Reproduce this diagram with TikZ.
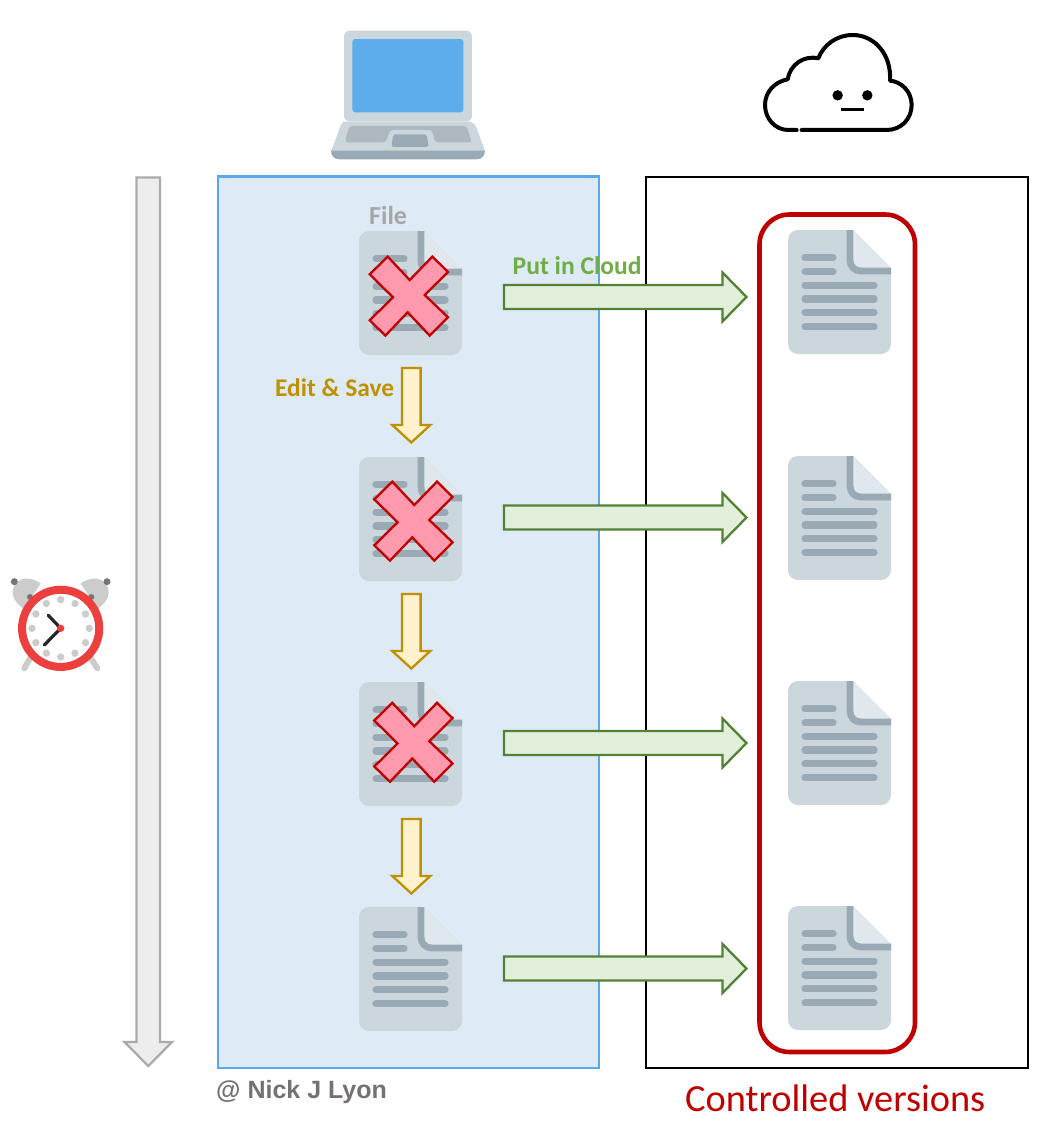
\documentclass[tikz,border=0pt]{standalone}
\usepackage{fontspec}
\setmainfont{Carlito}
\newfontfamily\arialfont{Liberation Sans}
\definecolor{docbody}{HTML}{CCD6DD}
\definecolor{docline}{HTML}{99AAB5}
\definecolor{docfold}{HTML}{E1E8ED}
\definecolor{screenblue}{HTML}{5DADEC}
\definecolor{keypad}{HTML}{ADB9BF}
\definecolor{boxblue}{HTML}{DEEAF6}
\definecolor{boxedge}{HTML}{5BA8EA}
\definecolor{crossfill}{HTML}{FF9AAE}
\definecolor{darkred}{HTML}{C00000}
\definecolor{greenfill}{HTML}{E2EFDA}
\definecolor{greenedge}{HTML}{548235}
\definecolor{greentext}{HTML}{70AD47}
\definecolor{goldfill}{HTML}{FFF2CC}
\definecolor{goldedge}{HTML}{BF9000}
\definecolor{timefill}{HTML}{EDEDED}
\definecolor{timeedge}{HTML}{ABABAB}
\definecolor{filetext}{HTML}{A6A6A6}
\definecolor{signtext}{HTML}{767171}
\definecolor{clockred}{HTML}{EE3F3F}
\definecolor{clockgrey}{HTML}{CCCCCC}
\definecolor{knob}{HTML}{757575}
\tikzset{
  docicon/.pic={
    \fill[docbody] (65,0) -- (10,0) .. controls (4.5,0) and (0,4.5) .. (0,10) -- (0,114)
      .. controls (0,119.5) and (4.5,124) .. (10,124) -- (93,124)
      .. controls (98.5,124) and (103,119.5) .. (103,114) -- (103,38) -- cycle;
    \fill[docfold] (65,0) -- (103,38) -- (73,38) .. controls (68.5,38) and (65,34.5) .. (65,30) -- cycle;
    \draw[docline,line width=6.8pt] (62,0) -- (62,30) .. controls (62,36.5) and (66.5,41) .. (73,41) -- (103,41);
    \foreach \yy/\xx in {27.7/48,41.7/48,55.3/89,69/89,82.7/89,96.7/89}
      \draw[docline,line width=7.2pt,line cap=round] (17,\yy) -- (\xx-3,\yy);
  },
  crossmark/.pic={
    \draw[fill=crossfill,draw=darkred,line width=2.3pt,line join=miter]
      (-21,-39.7) -- (1,-16.3) -- (23.7,-39.7) -- (39.3,-24.3) -- (16,-1.3) -- (39.3,21)
      -- (21,39.3) -- (-1,16) -- (-23.3,39.3) -- (-39,24) -- (-15.7,1) -- (-39,-22) -- cycle;
  },
  greenarrow/.pic={
    \draw[fill=greenfill,draw=greenedge,line width=2.3pt,line join=miter]
      (0,-12) -- (218.5,-12) -- (218.5,-24.5) -- (242.5,0) -- (218.5,24.5) -- (218.5,12) -- (0,12) -- cycle;
  },
  goldarrow/.pic={
    \draw[fill=goldfill,draw=goldedge,line width=2.3pt,line join=miter]
      (-9.3,0) -- (9.3,0) -- (9.3,57) -- (19,57) -- (0,74.5) -- (-19,57) -- (-9.3,57) -- cycle;
  },
  lbl/.style={inner sep=0pt,anchor=base west}
}
\newcommand{\fs}[1]{\fontsize{#1}{#1}\selectfont}
\begin{document}
\begin{tikzpicture}[x=1pt,y=-1pt]
\useasboundingbox (0,0) rectangle (1054,1125);
% boxes
\draw[fill=boxblue,draw=boxedge,line width=2.2pt] (218,176.5) rectangle (599,1068);
\draw[black,line width=2pt] (646,176.5) rectangle (1028,1068);
\draw[darkred,line width=4.6pt,rounded corners=30pt] (759.5,214.5) rectangle (915,1052);
% time arrow
\draw[fill=timefill,draw=timeedge,line width=2.3pt,line join=miter]
  (136.5,177.5) -- (160,177.5) -- (160,1042) -- (172,1042) -- (148.3,1066) -- (124.5,1042) -- (136.5,1042) -- cycle;
% documents
\foreach \py in {231,457,682,907} \pic at (359,\py) {docicon};
\foreach \py in {230,456,681,906} \pic at (788,\py) {docicon};
% crosses
\pic at (408.7,296.3) {crossmark};
\pic at (413.3,521.3) {crossmark};
\pic at (413.3,742.5) {crossmark};
% arrows
\foreach \py in {297,517.5,743,968.5} \pic at (504,\py) {greenarrow};
\foreach \py in {368,594,819} \pic at (411.3,\py) {goldarrow};
% laptop
\begin{scope}[shift={(320,20)},x=0.3333pt,y=-0.3333pt]
  \fill[docbody] (70,305) -- (450,305) .. controls (462,308) and (468,318) .. (472,328) -- (495,395) -- (33,395) -- (58,328) .. controls (61,318) and (64,308) .. (70,305) -- cycle;
  \fill[docline] (33,392) -- (495,392) .. controls (495,408) and (485,418) .. (470,418) -- (58,418) .. controls (43,418) and (33,408) .. (33,392) -- cycle;
  \fill[docbody,rounded corners=6pt] (72,32) rectangle (456,305);
  \fill[screenblue,rounded corners=3pt] (97,57) rectangle (430,277);
  \fill[keypad,rounded corners=3pt] (88,318) -- (440,318) -- (456,367) -- (345,367) -- (336,330) -- (210,330) -- (197,367) -- (74,367) -- cycle;
  \fill[docline,rounded corners=2.5pt] (220,343) -- (320,343) -- (326,381) -- (214,381) -- cycle;
\end{scope}
% cloud
\begin{scope}[shift={(750,20)},x=0.3333pt,y=-0.3333pt]
  \draw[black,line width=4pt,line cap=round,line join=round]
    (155,330) -- (410,330) .. controls (455,330) and (485,295) .. (485,255)
    .. controls (485,215) and (455,185) .. (420,182)
    .. controls (425,105) and (375,45) .. (308,45)
    .. controls (260,45) and (220,75) .. (205,115)
    .. controls (160,105) and (120,135) .. (113,178)
    .. controls (75,185) and (45,215) .. (45,255)
    .. controls (45,295) and (75,330) .. (115,330) -- (140,330);
  \fill[black] (263,226) circle[radius=5.2pt];
  \fill[black] (352,226) circle[radius=5.2pt];
  \draw[black,line width=2.6pt] (274,269) -- (342,269);
\end{scope}
% clock
\begin{scope}[shift={(0,560)},x=0.3333pt,y=-0.3333pt]
  \draw[clockgrey,line width=6pt,line cap=round] (90,295) -- (73,325);
  \draw[clockgrey,line width=6pt,line cap=round] (273,295) -- (292,325);
  \fill[clockgrey] (122,70) .. controls (100,55) and (70,48) .. (50,68) .. controls (32,88) and (30,118) .. (72,147) -- cycle;
  \fill[clockgrey] (242,70) .. controls (264,55) and (294,48) .. (314,68) .. controls (332,88) and (334,118) .. (292,147) -- cycle;
  \fill[knob] (43,65) circle[radius=3.5pt];
  \fill[knob] (321,65) circle[radius=3.5pt];
  \fill[knob] (90,111) circle[radius=3pt];
  \fill[knob] (274,111) circle[radius=3pt];
  \fill[white] (182,205) circle[radius=38.6pt];
  \draw[clockred,line width=8pt] (182,205) circle[radius=38.6pt];
  \foreach \a in {0,30,...,330}
    \fill[clockgrey] (182,205) ++(\a:86) circle[radius=3.7pt];
  \draw[black!85,line width=3.2pt,line cap=round] (145,166) -- (182,205) -- (133,255);
  \fill[clockred] (182,205) circle[radius=3.7pt];
\end{scope}
% labels
\node[lbl,text=filetext] (filelabel) at (369,224) {\fs{26}\bfseries File};
\node[lbl,text=greentext] (cloudlabel) at (512.5,274) {\fs{25.6}\bfseries Put in Cloud};
\node[lbl,text=goldedge] (editlabel) at (275,396) {\fs{25.4}\bfseries Edit \& Save};
\node[lbl,text=signtext] (signlabel) at (216,1098) {\arialfont\fs{25}\bfseries @ Nick J Lyon};
\node[lbl,text=darkred] (versionlabel) at (685,1111) {\fs{38.4}Controlled versions};
\end{tikzpicture}
\end{document}
